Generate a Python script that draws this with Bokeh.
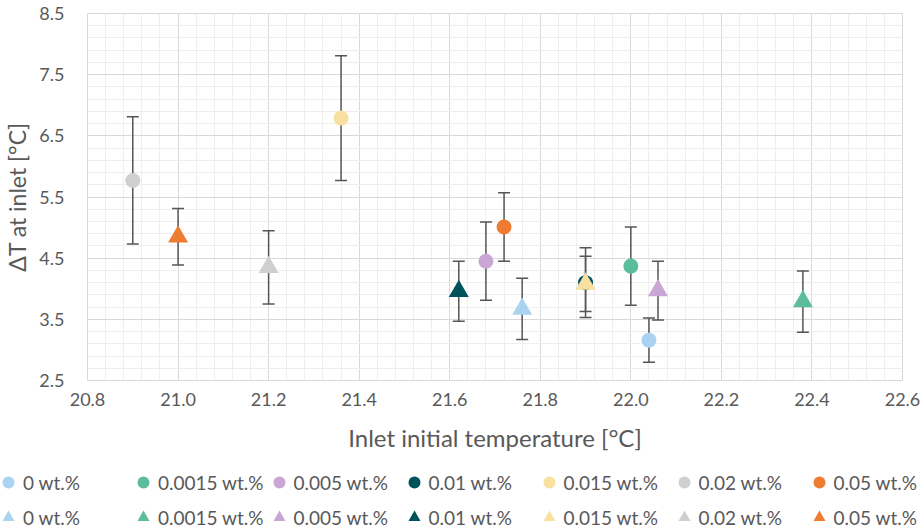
from bokeh.plotting import figure
from bokeh.layouts import column
from bokeh.models import (ColumnDataSource, Whisker, TeeHead, Legend, LegendItem,
                          FixedTicker, NumeralTickFormatter, Range1d)
from bokeh.embed import file_html
from bokeh.resources import INLINE

# ---- data ----
conc_labels = ["0 wt.%", "0.0015 wt.%", "0.005 wt.%", "0.01 wt.%", "0.015 wt.%", "0.02 wt.%", "0.05 wt.%"]
colors = ["#A9D3F0", "#5BBD9B", "#C9A6D4", "#00535B", "#F9DFA0", "#CFCFCF", "#EE7D31"]

circle_x = [22.04, 22.00, 21.68, 21.90, 21.36, 20.90, 21.72]
circle_y = [3.16, 4.37, 4.45, 4.10, 6.79, 5.77, 5.01]
circle_err = [0.36, 0.64, 0.64, 0.57, 1.02, 1.04, 0.56]

tri_x = [21.76, 22.38, 22.06, 21.62, 21.90, 21.20, 21.00]
tri_y = [3.67, 3.79, 3.97, 3.96, 4.08, 4.35, 4.85]
tri_err = [0.50, 0.50, 0.48, 0.49, 0.45, 0.60, 0.46]

x_ticks = [20.8, 21.0, 21.2, 21.4, 21.6, 21.8, 22.0, 22.2, 22.4, 22.6]
y_ticks = [2.5, 3.5, 4.5, 5.5, 6.5, 7.5, 8.5]

FONT = "Lato"
TXT = "#595959"

p = figure(width=923, height=460, output_backend="svg", toolbar_location=None,
           x_range=Range1d(20.8, 22.6), y_range=Range1d(2.5, 8.5),
           min_border_left=87, min_border_right=21, min_border_top=13, min_border_bottom=80,
           x_axis_label="Inlet initial temperature [°C]", y_axis_label="ΔT at inlet [°C]")
p.frame_align = False

p.outline_line_color = "#D9D9D9"
p.background_fill_color = "white"

xminor = [round(20.8 + 0.04 * i, 2) for i in range(46)]
yminor = [round(2.5 + 0.2 * i, 2) for i in range(31)]
p.xaxis.ticker = FixedTicker(ticks=x_ticks, minor_ticks=xminor)
p.yaxis.ticker = FixedTicker(ticks=y_ticks, minor_ticks=yminor)
p.xaxis.formatter = NumeralTickFormatter(format="0.0")
p.yaxis.formatter = NumeralTickFormatter(format="0.0")

for ax in (p.xaxis, p.yaxis):
    ax.axis_line_color = None
    ax.major_tick_line_color = None
    ax.minor_tick_line_color = None
    ax.major_label_text_font = FONT
    ax.major_label_text_font_size = "18px"
    ax.major_label_text_color = TXT
    ax.axis_label_text_font = FONT
    ax.axis_label_text_font_style = "normal"
    ax.axis_label_text_color = TXT

p.xaxis.axis_label_text_font_size = "24px"
p.yaxis.axis_label_text_font_size = "23px"
p.xaxis.major_label_standoff = 6
p.xaxis.axis_label_standoff = 14
p.yaxis.major_label_standoff = 17
p.yaxis.axis_label_standoff = 5

for g in (p.xgrid, p.ygrid):
    g.grid_line_color = "#D9D9D9"
    g.grid_line_width = 1
    g.minor_grid_line_color = "#EEEEEE"
    g.minor_grid_line_width = 1

# legend strip (keys only; its frame spans the full width)
lf = figure(width=923, height=69, output_backend="svg", toolbar_location=None,
            x_range=Range1d(0, 1), y_range=Range1d(0, 1), x_axis_location=None, y_axis_location=None,
            min_border_left=0, min_border_right=0, min_border_top=0, min_border_bottom=0)
lf.frame_align = False
lf.grid.visible = False
lf.outline_line_color = None

circle_items = []
tri_items = []

def add_series(xs, ys, errs, i, marker, size, items):
    src = ColumnDataSource(dict(x=[xs[i]], y=[ys[i]], lo=[ys[i] - errs[i]], hi=[ys[i] + errs[i]]))
    w = Whisker(source=src, base="x", lower="lo", upper="hi", dimension="height",
                line_color="#555555", line_width=1.5, level="underlay",
                upper_head=TeeHead(size=12, line_color="#555555", line_width=1.5),
                lower_head=TeeHead(size=12, line_color="#555555", line_width=1.5))
    p.add_layout(w)
    p.scatter("x", "y", source=src, marker=marker, size=size,
              fill_color=colors[i], line_color=None)
    # key renderer: same point, lies outside the strip's visible range
    key = lf.scatter("x", "y", source=src, marker=marker, size=size,
                     fill_color=colors[i], line_color=None)
    items.append(LegendItem(label=conc_labels[i], renderers=[key]))

for i in range(len(conc_labels)):
    add_series(circle_x, circle_y, circle_err, i, "circle", 15, circle_items)
for i in range(len(conc_labels)):
    add_series(tri_x, tri_y, tri_err, i, "triangle", 20, tri_items)

def make_legend(items, loc):
    return Legend(items=items, orientation="horizontal", location=loc,
                  label_text_font=FONT, label_text_font_size="19px", label_text_color=TXT,
                  glyph_width=30, glyph_height=30, label_standoff=0, spacing=0,
                  label_width=105, padding=0, margin=0,
                  border_line_color=None, background_fill_alpha=0)

lf.add_layout(make_legend(circle_items, (-7, 32)))
lf.add_layout(make_legend(tri_items, (-7, -3)))

layout = column(p, lf, spacing=0)
open("out.html", "w").write(file_html(layout, INLINE))
